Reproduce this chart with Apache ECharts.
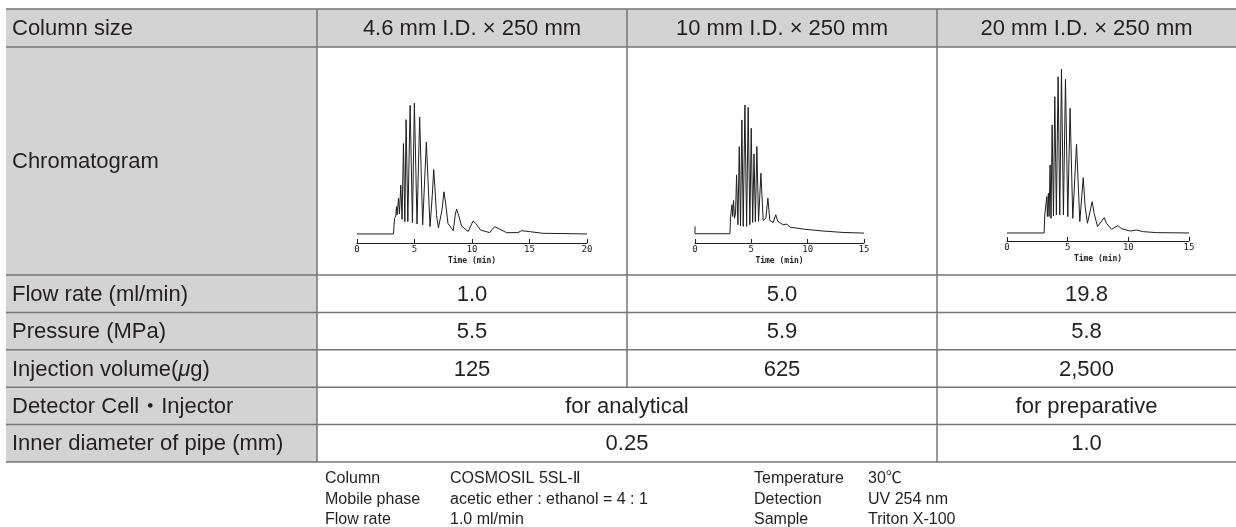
<!DOCTYPE html>
<html><head><meta charset="utf-8">
<script src="https://cdn.jsdelivr.net/npm/echarts@6/dist/echarts.min.js"></script>
<style>html,body{margin:0;padding:0;background:#fff;}#c{width:1236px;height:527px;}</style>
</head><body><div id="c"></div>
<script>
// ---------- table content ----------
const rowLabels = ['Column size','Chromatogram','Flow rate (ml/min)','Pressure (MPa)','Injection volume({mu|μ}g)','Detector Cell・Injector','Inner diameter of pipe (mm)'];
const columnSizes = ['4.6 mm I.D. × 250 mm','10 mm I.D. × 250 mm','20 mm I.D. × 250 mm'];
const flowRates = ['1.0','5.0','19.8'];
const pressures = ['5.5','5.9','5.8'];
const injectionVolumes = ['125','625','2,500'];
const detectorCells = [['for analytical',2],['for preparative',1]];
const pipeDiameters = [['0.25',2],['1.0',1]];
const footLeftLabels = ['Column','Mobile phase','Flow rate'];
const footLeftValues = ['COSMOSIL 5SL-{rn|Ⅱ}','acetic ether : ethanol = 4 : 1','1.0 ml/min'];
const footRightLabels = ['Temperature','Detection','Sample'];
const footRightValues = ['30℃','UV 254 nm','Triton X-100'];

// ---------- chromatogram data: [time (min), relative signal] ----------
const timeMax = [20, 15, 15];
const timeTicks = [0, 5, 10, 15, 20];
const chrom46 = [[0,0],[3.17,0],[3.26,11.9],[3.38,13.7],[3.43,20.8],[3.49,14.5],[3.61,27.2],[3.69,15.2],[3.81,37.3],[3.92,11.2],[4.04,69.0],[4.16,9.4],[4.27,87.3],[4.42,9.4],[4.62,98.2],[4.82,8.6],[4.99,100],[5.22,7.6],[5.45,89.3],[5.71,6.9],[6.03,70.3],[6.35,5.6],[6.55,30],[6.67,49.2],[6.77,36],[6.92,14],[7.08,4.6],[7.39,18.3],[7.56,32.2],[7.71,23.4],[7.91,8.1],[8.37,2.5],[8.54,14.5],[8.66,19.0],[8.83,14.5],[9.09,6.1],[9.67,1.8],[9.93,6.9],[10.10,9.9],[10.33,8.1],[10.74,3.0],[11.54,1.0],[11.77,3.6],[11.97,5.6],[12.27,4.3],[13.0,1.0],[14.0,1.0],[14.29,2.5],[15.0,1.8],[16.16,0.5],[17.9,0.3],[20,0]];
const chrom10 = [[0,5.7],[0,0],[3.10,0],[3.16,13.4],[3.25,14.7],[3.28,22.5],[3.34,13.4],[3.42,25.8],[3.51,12.1],[3.60,16.0],[3.69,45.7],[3.81,7.0],[3.93,67.7],[4.04,6.2],[4.16,88.4],[4.28,5.7],[4.43,100],[4.58,5.7],[4.72,98.2],[4.87,7.0],[4.99,81.9],[5.12,8.8],[5.24,62],[5.36,9.3],[5.49,67.7],[5.64,9.6],[5.85,47.0],[6.05,10.3],[6.29,12.1],[6.47,27.6],[6.64,10.3],[6.94,8.8],[7.17,14.7],[7.35,9.6],[7.82,7.0],[8.15,7.5],[8.41,5.2],[9.6,3.6],[11.37,2.1],[13.14,1.0],[15,0.5]];
const chrom20 = [[0,0],[3.06,0],[3.11,11.0],[3.19,11.6],[3.28,22.2],[3.33,10.0],[3.41,24.2],[3.47,10.0],[3.55,41.5],[3.63,8.9],[3.72,65.9],[3.83,10.4],[3.94,83.1],[4.07,11.0],[4.21,95.3],[4.35,11.0],[4.49,100],[4.65,11.0],[4.82,93.7],[5.01,10.0],[5.20,76.0],[5.42,8.9],[5.73,54.1],[6.0,6.9],[6.28,33.7],[6.44,16.1],[6.63,5.9],[7.02,19.1],[7.18,12.0],[7.46,3.9],[8.01,9.3],[8.20,5.9],[8.62,2.2],[9.14,4.5],[9.44,2.6],[10.13,1.2],[10.68,1.8],[11.23,0.8],[12.33,0.2],[15,0]];
const chromData = [chrom46, chrom10, chrom20];

// ---------- layout (positions & styles only) ----------
const W = 1236, H = 527;
const colX = [6, 317, 627, 937, 1236];
const rowY = [9, 47, 275, 312.4, 349.8, 387.2, 424.6, 462];
const GRAY = '#d3d3d3', LINE = '#767676', INK = '#231f20';
const FONT = "'Liberation Sans','Noto Sans CJK JP',Arial,sans-serif";
const FS = 22, FS_FOOT = 16;
const plotBoxes = [
  {left:357, width:230, top:103, axisY:243, ymin:-6.9},
  {left:695, width:169, top:105, axisY:243, ymin:-7.2},
  {left:1007, width:182, top:69, axisY:241, ymin:-4.9}
];

const g = [];
g.push({type:'rect', shape:{x:colX[0], y:rowY[0], width:colX[4]-colX[0], height:rowY[1]-rowY[0]}, style:{fill:GRAY}, z:0});
g.push({type:'rect', shape:{x:colX[0], y:rowY[1], width:colX[1]-colX[0], height:rowY[7]-rowY[1]}, style:{fill:GRAY}, z:0});
rowY.forEach(y => g.push({type:'line', shape:{x1:colX[0], y1:y, x2:colX[4], y2:y}, style:{stroke:LINE, lineWidth:1.5}, z:2}));
g.push({type:'line', shape:{x1:colX[1], y1:rowY[0], x2:colX[1], y2:rowY[7]}, style:{stroke:LINE, lineWidth:1.5}, z:2});
g.push({type:'line', shape:{x1:colX[2], y1:rowY[0], x2:colX[2], y2:rowY[5]}, style:{stroke:LINE, lineWidth:1.5}, z:2});
g.push({type:'line', shape:{x1:colX[3], y1:rowY[0], x2:colX[3], y2:rowY[7]}, style:{stroke:LINE, lineWidth:1.5}, z:2});

function txt(text, x, y, align, size) {
  const s = size || FS;
  return {type:'text', x:x, y:y, z:3, style:{text:text, fill:INK, font: s+'px '+FONT, align:align||'center', verticalAlign:'middle',
    rich:{mu:{fontStyle:'italic', fontSize:s, fontFamily:FONT, fill:INK},
          rn:{fontSize:s, fontFamily:"'DejaVu Sans'", fill:INK}}}};
}
rowLabels.forEach((lab, i) => g.push(txt(lab, colX[0]+6, (rowY[i]+rowY[i+1])/2 + 1, 'left')));
const simpleRows = [[columnSizes,0],[flowRates,2],[pressures,3],[injectionVolumes,4]];
simpleRows.forEach(([vals, r]) => vals.forEach((v, c) => g.push(txt(v, (colX[c+1]+colX[c+2])/2, (rowY[r]+rowY[r+1])/2 + 1))));
[[detectorCells,5],[pipeDiameters,6]].forEach(([cells, r]) => {
  let c = 1;
  cells.forEach(([v, span]) => { g.push(txt(v, (colX[c]+colX[c+span])/2, (rowY[r]+rowY[r+1])/2 + 1)); c += span; });
});
const footY = [479, 499.5, 520];
const footX = [325, 450, 754, 868];
[footLeftLabels, footLeftValues, footRightLabels, footRightValues].forEach((arr, k) =>
  arr.forEach((t, i) => g.push(txt(t, footX[k], footY[i], 'left', FS_FOOT))));

const grids = [], xAxes = [], yAxes = [], series = [];
plotBoxes.forEach((b, i) => {
  grids.push({left:b.left, width:b.width, top:b.top, height:b.axisY-b.top, containLabel:false, outerBoundsMode:'none'});
  xAxes.push({type:'value', gridIndex:i, min:0, max:timeMax[i], interval:5,
    axisLine:{show:true, onZero:false, lineStyle:{color:'#222', width:1}},
    axisTick:{show:true, inside:true, length:4, lineStyle:{color:'#222', width:1}},
    splitLine:{show:false},
    axisLabel:{fontSize:9, fontFamily:'DejaVu Sans Mono', color:'#222', margin:2,
      formatter: v => timeTicks.indexOf(v) >= 0 ? String(v) : ''},
    name:'Time (min)', nameLocation:'middle', nameGap:14,
    nameTextStyle:{fontSize:8, fontFamily:'DejaVu Sans Mono', color:'#222', fontWeight:'bold'}});
  yAxes.push({type:'value', gridIndex:i, min:b.ymin, max:100, show:false, splitLine:{show:false}});
  series.push({type:'line', xAxisIndex:i, yAxisIndex:i, data:chromData[i], showSymbol:false, symbol:'none',
    lineStyle:{width:1, color:'#1e1e1e'}, silent:true});
});

const chart = echarts.init(document.getElementById('c'), null, {renderer:'canvas', width:W, height:H});
chart.setOption({animation:false, backgroundColor:'#fff', grid:grids, xAxis:xAxes, yAxis:yAxes, series:series, graphic:{elements:g}});
</script></body></html>
